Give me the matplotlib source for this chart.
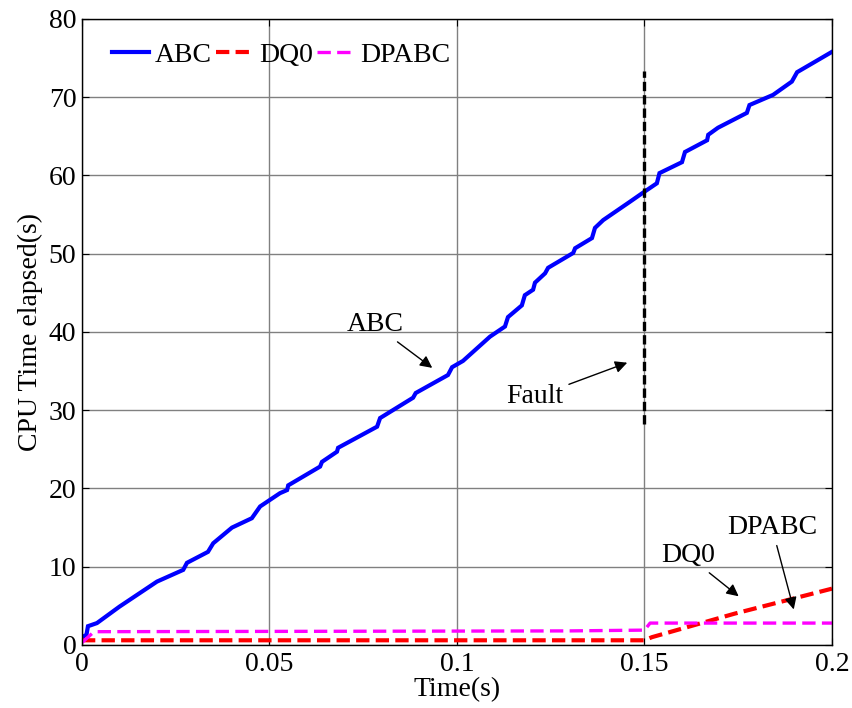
import matplotlib
matplotlib.use("Agg")
import matplotlib.pyplot as plt

plt.rcParams['font.family'] = ['Liberation Serif', 'DejaVu Serif']
plt.rcParams['mathtext.fontset'] = 'stix'

# ABC series (time, cpu seconds)
abc_t = [0.0, 0.0012, 0.0016, 0.0040, 0.0100, 0.0200, 0.0270, 0.0280, 0.0336, 0.0350,
         0.0400, 0.0453, 0.0475, 0.0528, 0.0547, 0.0550, 0.0635, 0.0640, 0.0680, 0.0683,
         0.0787, 0.0795, 0.0883, 0.0890, 0.0976, 0.0987, 0.1016, 0.1088, 0.1128, 0.1136,
         0.1173, 0.1181, 0.1203, 0.1208, 0.1235, 0.1243, 0.1310, 0.1315, 0.1360, 0.1368,
         0.1390, 0.1460, 0.1493, 0.1533, 0.1540, 0.1600, 0.1608, 0.1667, 0.1670, 0.1696,
         0.1773, 0.1780, 0.1843, 0.1893, 0.1907, 0.1950, 0.2000]
abc_y = [1.0, 1.3, 2.4, 2.8, 4.9, 8.1, 9.6, 10.5, 11.9, 13.0,
         15.0, 16.2, 17.7, 19.4, 19.8, 20.4, 22.8, 23.4, 24.7, 25.2,
         27.9, 29.0, 31.6, 32.2, 34.5, 35.5, 36.3, 39.4, 40.7, 41.9,
         43.4, 44.7, 45.4, 46.3, 47.5, 48.2, 50.1, 50.7, 52.0, 53.3,
         54.3, 56.6, 57.7, 59.0, 60.3, 61.7, 63.0, 64.5, 65.2, 66.1,
         68.0, 69.0, 70.3, 72.0, 73.2, 74.4, 75.8]

# DQ0 series
dq0_t = [0.0, 0.1500, 0.1520, 0.1740, 0.2000]
dq0_y = [0.6, 0.6, 1.0, 4.0, 7.2]

# DPABC series
dpabc_t = [0.0, 0.0030, 0.0040, 0.1300, 0.1500, 0.1515, 0.2000]
dpabc_y = [0.3, 1.6, 1.7, 1.8, 1.9, 2.8, 2.8]

# Fault marker
fault_t = 0.15
fault_y = [28.2, 73.3]

xticks = [0, 0.05, 0.1, 0.15, 0.2]
xtick_labels = ['0', '0.05', '0.1', '0.15', '0.2']
yticks = [0, 10, 20, 30, 40, 50, 60, 70, 80]

fs = 20

fig = plt.figure(figsize=(8.52, 7.08), dpi=100)
ax = fig.add_axes([0.0962, 0.0890, 0.8803, 0.8842])

ax.plot(abc_t, abc_y, color='#0000ff', lw=3, label='ABC', solid_joinstyle='miter')
l2, = ax.plot(dq0_t, dq0_y, color='#ff0000', lw=3, ls='--', label='DQ0')
l2.set_dashes((3.2, 1.5))
l3, = ax.plot(dpabc_t, dpabc_y, color='#ff00ff', lw=2.4, ls='--', label='DPABC')
l3.set_dashes((4.0, 1.9))
l4, = ax.plot([fault_t, fault_t], fault_y, color='black', lw=2.4, ls='--')
l4.set_dashes((2.8, 1.2))

ax.set_xlim(0, 0.2)
ax.set_ylim(0, 80)
ax.set_xticks(xticks)
ax.set_xticklabels(xtick_labels)
ax.set_yticks(yticks)
ax.grid(True, color='#808080', lw=1.0)
ax.set_axisbelow(True)
ax.tick_params(direction='in', labelsize=fs, top=True, right=True, length=5)
ax.tick_params(axis='x', pad=5)
ax.tick_params(axis='y', pad=4)
for s in ax.spines.values():
    s.set_linewidth(1.0)

ax.set_xlabel('Time(s)', fontsize=fs, labelpad=0)
ax.set_ylabel('CPU Time elapsed(s)', fontsize=fs, labelpad=4)

leg = ax.legend(loc='upper left', ncol=3, frameon=False, fontsize=fs,
                handlelength=1.35, handletextpad=0.2, columnspacing=0.15,
                borderaxespad=0.0, bbox_to_anchor=(0.025, 0.98))

arrow = dict(arrowstyle='-|>', color='black', lw=1.0, mutation_scale=18)
ax.annotate('ABC', xy=(0.0940, 35.2), xytext=(0.0781, 40.9), fontsize=fs,
            ha='center', va='center', arrowprops=arrow)
ax.annotate('Fault', xy=(0.1461, 36.2), xytext=(0.1208, 31.7), fontsize=fs,
            ha='center', va='center', arrowprops=arrow)
ax.annotate('DQ0', xy=(0.1757, 6.0), xytext=(0.1616, 11.4), fontsize=fs,
            ha='center', va='center', arrowprops=arrow)
ax.annotate('DPABC', xy=(0.1900, 4.2), xytext=(0.1840, 15.0), fontsize=fs,
            ha='center', va='center', arrowprops=arrow)

fig.savefig('out.png', dpi=100)
